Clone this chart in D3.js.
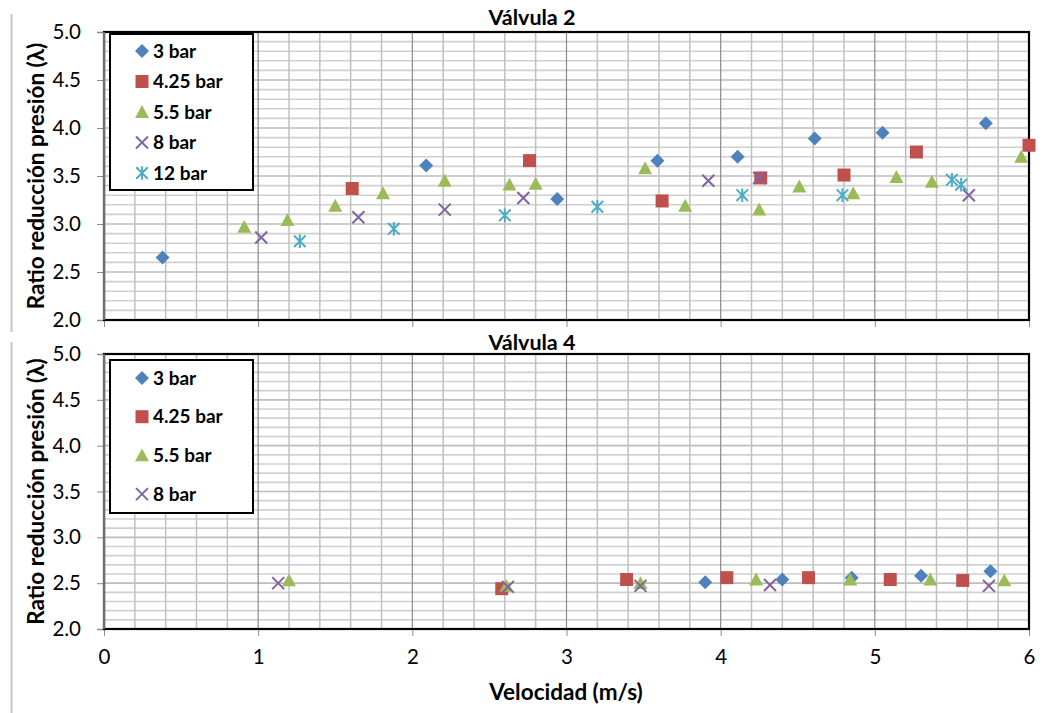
<!DOCTYPE html>
<html>
<head>
<meta charset="utf-8">
<script src="https://cdn.jsdelivr.net/npm/d3@7"></script>
<style>
  html, body { margin: 0; padding: 0; background: #fff; }
  svg { display: block; font-family: Lato, "Open Sans", sans-serif; }
</style>
</head>
<body>
<svg id="chart" width="1044" height="713"></svg>
<script>
// ---- Data: pressure-reduction ratio vs. flow speed ----
const seriesNames = ["3 bar", "4.25 bar", "5.5 bar", "8 bar", "12 bar"];
const seriesColors = ["#4F81BD", "#C0504D", "#9BBB59", "#8064A2", "#4BACC6"];
const seriesShapes = ["diamond", "square", "triangle", "x", "star"];

const xTicks = [0, 1, 2, 3, 4, 5, 6];
const yTicks = [2.0, 2.5, 3.0, 3.5, 4.0, 4.5, 5.0];

// Válvula 2
const v2Speed3   = [0.38, 2.09, 2.94, 3.59, 4.11, 4.61, 5.05, 5.72];
const v2Ratio3   = [2.65, 3.61, 3.26, 3.66, 3.70, 3.89, 3.95, 4.05];
const v2Speed425 = [1.61, 2.76, 3.62, 4.26, 4.80, 5.27, 6.00];
const v2Ratio425 = [3.37, 3.66, 3.24, 3.48, 3.51, 3.75, 3.82];
const v2Speed55  = [0.91, 1.19, 1.50, 1.81, 2.21, 2.63, 2.80, 3.51, 3.77, 4.25, 4.51, 4.86, 5.14, 5.37, 5.95];
const v2Ratio55  = [2.97, 3.04, 3.19, 3.32, 3.45, 3.41, 3.42, 3.58, 3.19, 3.15, 3.39, 3.32, 3.49, 3.44, 3.70];
const v2Speed8   = [1.02, 1.65, 2.21, 2.72, 3.92, 4.25, 5.61];
const v2Ratio8   = [2.86, 3.07, 3.15, 3.27, 3.45, 3.48, 3.30];
const v2Speed12  = [1.27, 1.88, 2.60, 3.20, 4.14, 4.79, 5.50, 5.56];
const v2Ratio12  = [2.82, 2.95, 3.09, 3.18, 3.30, 3.30, 3.46, 3.41];

// Válvula 4
const v4Speed3   = [3.90, 4.40, 4.85, 5.30, 5.75];
const v4Ratio3   = [2.51, 2.54, 2.56, 2.58, 2.63];
const v4Speed425 = [2.58, 3.39, 4.04, 4.57, 5.10, 5.57];
const v4Ratio425 = [2.44, 2.54, 2.56, 2.56, 2.54, 2.53];
const v4Speed55  = [1.20, 2.61, 3.48, 4.23, 4.84, 5.36, 5.84];
const v4Ratio55  = [2.53, 2.47, 2.50, 2.54, 2.54, 2.54, 2.53];
const v4Speed8   = [1.13, 2.62, 3.48, 4.32, 5.74];
const v4Ratio8   = [2.50, 2.46, 2.47, 2.48, 2.47];

const zip = (xs, ys) => xs.map((x, i) => ({ x, y: ys[i] }));

const panels = [
  {
    title: "Válvula 2",
    series: [
      zip(v2Speed3, v2Ratio3), zip(v2Speed425, v2Ratio425), zip(v2Speed55, v2Ratio55),
      zip(v2Speed8, v2Ratio8), zip(v2Speed12, v2Ratio12)
    ],
    top: 32, bottom: 320, titleY: 25,
    legend: { y: 34, h: 156, step: 30.5, first: 17 },
    frame: [14, 332], showX: false
  },
  {
    title: "Válvula 4",
    series: [
      zip(v4Speed3, v4Ratio3), zip(v4Speed425, v4Ratio425), zip(v4Speed55, v4Ratio55),
      zip(v4Speed8, v4Ratio8)
    ],
    top: 354, bottom: 629, titleY: 350,
    legend: { y: 360, h: 153, step: 38.7, first: 18 },
    frame: [342, 713], showX: true
  }
];

const left = 104, right = 1029;
const svg = d3.select("#chart");

// Marker shapes (~13px across)
function markerPath(shape) {
  const p = d3.path();
  if (shape === "diamond") {
    const r = 7;
    p.moveTo(0, -r); p.lineTo(r, 0); p.lineTo(0, r); p.lineTo(-r, 0); p.closePath();
  } else if (shape === "square") {
    const r = 6.5;
    p.rect(-r, -r, 2 * r, 2 * r);
  } else if (shape === "triangle") {
    const w = 7, h = 7;
    p.moveTo(0, -h); p.lineTo(w, h * 0.85); p.lineTo(-w, h * 0.85); p.closePath();
  } else if (shape === "x") {
    const r = 6;
    p.moveTo(-r, -r); p.lineTo(r, r); p.moveTo(r, -r); p.lineTo(-r, r);
  } else if (shape === "star") {
    const r = 5.8;
    p.moveTo(-r, -r); p.lineTo(r, r); p.moveTo(r, -r); p.lineTo(-r, r);
    p.moveTo(0, -r - 1); p.lineTo(0, r + 1);
  }
  return p.toString();
}

function drawMarker(g, shape, color) {
  const path = g.append("path").attr("d", markerPath(shape));
  if (shape === "x" || shape === "star") {
    path.attr("fill", "none").attr("stroke", color).attr("stroke-width", 2);
  } else {
    path.attr("fill", color);
  }
}

panels.forEach(pn => {
  const x = d3.scaleLinear().domain([0, 6]).range([left, right]);
  const y = d3.scaleLinear().domain([2, 5]).range([pn.bottom, pn.top]);
  const g = svg.append("g");

  // Outer chart-area edge
  g.append("line")
    .attr("x1", 11.5).attr("x2", 11.5)
    .attr("y1", pn.frame[0]).attr("y2", pn.frame[1])
    .attr("stroke", "#c6c6c6").attr("stroke-width", 2);

  // Horizontal gridlines every 0.1
  const hMinor = d3.range(21, 50).map(d => d / 10);
  g.append("g").selectAll("line").data(hMinor).join("line")
    .attr("x1", left).attr("x2", right)
    .attr("y1", d => y(d)).attr("y2", d => y(d))
    .attr("stroke", d => (Math.abs(d * 2 - Math.round(d * 2)) < 1e-6) ? "#bdbdbd" : "#d0d0d0")
    .attr("stroke-width", 1.6);

  // Vertical minor gridlines every 0.2
  const vMinor = d3.range(1, 30).map(d => d / 5).filter(d => Math.abs(d - Math.round(d)) > 1e-6);
  g.append("g").selectAll("line").data(vMinor).join("line")
    .attr("x1", d => x(d)).attr("x2", d => x(d))
    .attr("y1", pn.top).attr("y2", pn.bottom)
    .attr("stroke", "#c0c0c0").attr("stroke-width", 1.5);

  // Vertical major gridlines at integers
  g.append("g").selectAll("line").data(xTicks.slice(1, -1)).join("line")
    .attr("x1", d => x(d)).attr("x2", d => x(d))
    .attr("y1", pn.top).attr("y2", pn.bottom)
    .attr("stroke", "#8c8c8c").attr("stroke-width", 1.2);

  // Y axis
  const yAxis = d3.axisLeft(y).tickValues(yTicks).tickFormat(d3.format(".1f")).tickSize(7).tickPadding(16);
  const ya = g.append("g").attr("transform", `translate(${left},0)`).call(yAxis);
  ya.select(".domain").attr("stroke", "#8c8c8c").attr("stroke-width", 1.5);
  ya.selectAll(".tick line").attr("stroke", "#8c8c8c");
  ya.selectAll(".tick text").attr("font-size", 20.5).attr("fill", "#000")
    .attr("font-family", "Lato, sans-serif").attr("x", -23);

  // X axis
  const xAxis = d3.axisBottom(x).tickValues(xTicks).tickSize(7).tickPadding(13)
    .tickFormat(pn.showX ? d3.format("d") : () => "");
  const xa = g.append("g").attr("transform", `translate(0,${pn.bottom})`).call(xAxis);
  xa.select(".domain").remove();
  xa.selectAll(".tick line").attr("stroke", "#8c8c8c");
  xa.selectAll(".tick text").attr("font-size", 20.5).attr("fill", "#000")
    .attr("font-family", "Lato, sans-serif");

  // Plot area border
  g.append("rect")
    .attr("x", left).attr("y", pn.top)
    .attr("width", right - left).attr("height", pn.bottom - pn.top)
    .attr("fill", "none").attr("stroke", "#000").attr("stroke-width", 2.2);
  g.append("line")
    .attr("x1", left).attr("x2", left).attr("y1", pn.top).attr("y2", pn.bottom)
    .attr("stroke", "#6e6e6e").attr("stroke-width", 2);

  // Points
  pn.series.forEach((pts, i) => {
    g.append("g").selectAll("g").data(pts).join("g")
      .attr("transform", d => `translate(${x(d.x)},${y(d.y)})`)
      .each(function () { drawMarker(d3.select(this), seriesShapes[i], seriesColors[i]); });
  });

  // Title
  g.append("text")
    .attr("x", 532).attr("y", pn.titleY)
    .attr("text-anchor", "middle")
    .attr("font-size", 21.5).attr("font-weight", "bold")
    .text(pn.title);

  // Y axis title
  g.append("text")
    .attr("transform", `translate(44,${(pn.top + pn.bottom) / 2}) rotate(-90)`)
    .attr("text-anchor", "middle")
    .attr("font-size", 22.5).attr("font-weight", "bold")
    .text("Ratio reducción presión (λ)");

  // Legend
  const lg = g.append("g").attr("transform", `translate(110,${pn.legend.y})`);
  lg.append("rect")
    .attr("width", 143).attr("height", pn.legend.h)
    .attr("fill", "#fff").attr("stroke", "#000").attr("stroke-width", 2);
  pn.series.forEach((_, i) => {
    const row = lg.append("g")
      .attr("transform", `translate(0,${pn.legend.first + i * pn.legend.step})`);
    const m = row.append("g").attr("transform", "translate(32,0)");
    drawMarker(m, seriesShapes[i], seriesColors[i]);
    row.append("text")
      .attr("x", 43).attr("y", 6.5)
      .attr("font-size", 19).attr("font-weight", "bold")
      .text(seriesNames[i]);
  });

  if (pn.showX) {
    g.append("text")
      .attr("x", 566).attr("y", 700)
      .attr("text-anchor", "middle")
      .attr("font-size", 22.5).attr("font-weight", "bold")
      .text("Velocidad (m/s)");
  }
});
</script>
</body>
</html>
